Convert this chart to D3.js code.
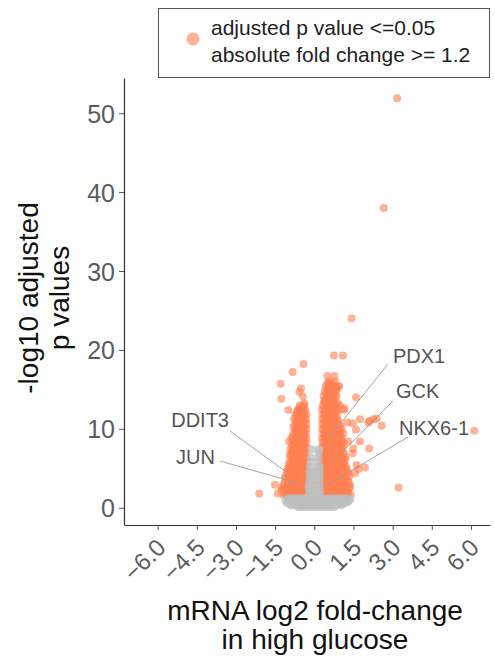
<!DOCTYPE html>
<html>
<head>
<meta charset="utf-8">
<script src="https://cdn.jsdelivr.net/npm/d3@7"></script>
<style>
  body { margin: 0; background: #fff; }
  svg { display: block; }
  text { font-family: "Liberation Sans", Arial, Helvetica, sans-serif; }
</style>
</head>
<body>
<svg id="chart" width="495" height="662"></svg>
<script>
// ---- data -------------------------------------------------------------
const xTicks = [-6.0, -4.5, -3.0, -1.5, 0.0, 1.5, 3.0, 4.5, 6.0];
const yTicks = [0, 10, 20, 30, 40, 50];

// significant genes: [log2 fold-change, -log10 adjusted p]
const sigPoints = [
  // down-regulated
  [-0.40,13.0],[-0.55,13.0],
  [-0.35,12.4],[-0.50,12.4],[-0.65,12.4],
  [-0.30,11.8],[-0.45,11.8],[-0.60,11.8],[-0.72,11.8],
  [-0.32,11.2],[-0.47,11.2],[-0.62,11.2],[-0.78,11.2],
  [-0.30,10.6],[-0.44,10.6],[-0.58,10.6],[-0.72,10.6],
  [-0.30,10.0],[-0.45,10.0],[-0.60,10.0],[-0.75,10.0],
  [-0.32,9.4],[-0.47,9.4],[-0.62,9.4],[-0.80,9.4],
  [-0.30,8.8],[-0.44,8.8],[-0.58,8.8],[-0.72,8.8],[-0.88,8.8],
  [-0.30,8.2],[-0.45,8.2],[-0.60,8.2],[-0.75,8.2],
  [-0.32,7.6],[-0.47,7.6],[-0.62,7.6],[-0.78,7.6],
  [-0.30,7.0],[-0.44,7.0],[-0.58,7.0],[-0.72,7.0],[-0.86,7.0],
  [-0.30,6.4],[-0.45,6.4],[-0.60,6.4],[-0.75,6.4],[-0.90,6.4],
  [-0.32,5.8],[-0.47,5.8],[-0.62,5.8],[-0.78,5.8],[-0.94,5.8],
  [-0.30,5.2],[-0.44,5.2],[-0.58,5.2],[-0.72,5.2],[-0.88,5.2],
  [-0.30,4.6],[-0.45,4.6],[-0.60,4.6],[-0.75,4.6],[-0.90,4.6],
  [-0.32,4.0],[-0.47,4.0],[-0.62,4.0],[-0.78,4.0],[-0.95,4.0],[-1.10,4.0],
  [-0.30,3.4],[-0.44,3.4],[-0.58,3.4],[-0.72,3.4],[-0.88,3.4],[-1.02,3.4],
  [-0.30,2.8],[-0.45,2.8],[-0.60,2.8],[-0.75,2.8],[-0.90,2.8],[-1.05,2.8],[-1.20,2.8],
  [-0.32,2.2],[-0.47,2.2],[-0.62,2.2],[-0.78,2.2],[-0.94,2.2],[-1.10,2.2],[-1.25,2.2],
  [-0.30,1.6],[-0.44,1.6],[-0.58,1.6],[-0.72,1.6],[-0.88,1.6],[-1.02,1.6],[-1.18,1.6],
  [-0.42,12.7],[-0.58,12.7],
  [-0.38,12.1],[-0.52,12.1],[-0.66,12.1],
  [-0.38,11.5],[-0.54,11.5],[-0.70,11.5],
  [-0.38,10.9],[-0.52,10.9],[-0.68,10.9],
  [-0.37,10.3],[-0.52,10.3],[-0.67,10.3],[-0.80,10.3],
  [-0.38,9.7],[-0.54,9.7],[-0.70,9.7],
  [-0.37,9.1],[-0.52,9.1],[-0.66,9.1],[-0.82,9.1],
  [-0.38,8.5],[-0.53,8.5],[-0.68,8.5],[-0.82,8.5],
  [-0.38,7.9],[-0.54,7.9],[-0.70,7.9],[-0.86,7.9],
  [-0.37,7.3],[-0.51,7.3],[-0.65,7.3],[-0.80,7.3],
  [-0.38,6.7],[-0.53,6.7],[-0.68,6.7],[-0.82,6.7],[-0.95,6.7],
  [-0.38,6.1],[-0.54,6.1],[-0.70,6.1],[-0.86,6.1],
  [-0.37,5.5],[-0.52,5.5],[-0.66,5.5],[-0.82,5.5],[-0.98,5.5],
  [-0.38,4.9],[-0.53,4.9],[-0.68,4.9],[-0.82,4.9],[-0.96,4.9],
  [-0.38,4.3],[-0.54,4.3],[-0.70,4.3],[-0.86,4.3],[-1.02,4.3],
  [-0.37,3.7],[-0.52,3.7],[-0.66,3.7],[-0.82,3.7],[-0.96,3.7],[-1.12,3.7],
  [-0.38,3.1],[-0.53,3.1],[-0.68,3.1],[-0.82,3.1],[-0.98,3.1],[-1.14,3.1],
  [-0.38,2.5],[-0.54,2.5],[-0.70,2.5],[-0.86,2.5],[-1.02,2.5],[-1.18,2.5],
  [-0.37,1.9],[-0.52,1.9],[-0.66,1.9],[-0.82,1.9],[-0.98,1.9],[-1.14,1.9],
  [-0.40,1.4],[-0.62,1.4],[-0.84,1.4],[-1.06,1.4],
  [-0.42,18.2],[-0.83,17.2],[-1.29,15.7],[-1.26,13.8],[-0.99,12.4],[-0.51,15.1],
  [-0.57,14.7],[-0.44,14.1],[-0.38,13.2],[-0.48,12.4],[-0.96,8.4],[-0.80,6.8],
  [-1.06,4.6],[-1.51,2.9],[-2.11,1.8],[-1.40,1.8],[-1.00,5.0],[-0.92,7.4],[-1.25,2.4],
  // up-regulated
  [0.55,16.0],[0.80,16.0],
  [0.45,15.4],[0.65,15.4],[0.90,15.4],
  [0.40,14.8],[0.58,14.8],[0.75,14.8],
  [0.35,14.2],[0.50,14.2],[0.68,14.2],[0.85,14.2],
  [0.38,13.6],[0.55,13.6],[0.72,13.6],
  [0.32,13.0],[0.48,13.0],[0.64,13.0],[0.80,13.0],[0.98,13.0],
  [0.30,12.4],[0.45,12.4],[0.60,12.4],[0.75,12.4],[0.92,12.4],
  [0.32,11.8],[0.48,11.8],[0.64,11.8],[0.80,11.8],
  [0.30,11.2],[0.45,11.2],[0.60,11.2],[0.75,11.2],[0.90,11.2],
  [0.32,10.6],[0.48,10.6],[0.64,10.6],[0.80,10.6],[0.96,10.6],
  [0.30,10.0],[0.45,10.0],[0.60,10.0],[0.75,10.0],[0.90,10.0],[1.05,10.0],
  [0.32,9.4],[0.48,9.4],[0.64,9.4],[0.80,9.4],[0.96,9.4],
  [0.30,8.8],[0.45,8.8],[0.60,8.8],[0.75,8.8],[0.90,8.8],[1.05,8.8],
  [0.32,8.2],[0.48,8.2],[0.64,8.2],[0.80,8.2],[0.96,8.2],[1.12,8.2],
  [0.30,7.6],[0.45,7.6],[0.60,7.6],[0.75,7.6],[0.90,7.6],[1.05,7.6],
  [0.32,7.0],[0.48,7.0],[0.64,7.0],[0.80,7.0],[0.96,7.0],[1.12,7.0],
  [0.30,6.4],[0.45,6.4],[0.60,6.4],[0.75,6.4],[0.90,6.4],[1.05,6.4],[1.20,6.4],
  [0.32,5.8],[0.48,5.8],[0.64,5.8],[0.80,5.8],[0.96,5.8],[1.12,5.8],
  [0.30,5.2],[0.45,5.2],[0.60,5.2],[0.75,5.2],[0.90,5.2],[1.05,5.2],[1.22,5.2],
  [0.32,4.6],[0.48,4.6],[0.64,4.6],[0.80,4.6],[0.96,4.6],[1.12,4.6],[1.28,4.6],
  [0.30,4.0],[0.45,4.0],[0.60,4.0],[0.75,4.0],[0.90,4.0],[1.05,4.0],[1.20,4.0],[1.35,4.0],
  [0.32,3.4],[0.48,3.4],[0.64,3.4],[0.80,3.4],[0.96,3.4],[1.12,3.4],[1.28,3.4],
  [0.30,2.8],[0.45,2.8],[0.60,2.8],[0.75,2.8],[0.90,2.8],[1.05,2.8],[1.20,2.8],[1.38,2.8],
  [0.32,2.2],[0.48,2.2],[0.64,2.2],[0.80,2.2],[0.96,2.2],[1.12,2.2],[1.28,2.2],
  [0.30,1.6],[0.45,1.6],[0.60,1.6],[0.75,1.6],[0.90,1.6],[1.05,1.6],[1.20,1.6],[1.40,1.6],
  [0.50,15.7],[0.70,15.7],
  [0.52,15.1],[0.70,15.1],[0.85,15.1],
  [0.45,14.5],[0.62,14.5],[0.80,14.5],
  [0.45,13.9],[0.62,13.9],[0.80,13.9],
  [0.40,13.3],[0.56,13.3],[0.72,13.3],[0.88,13.3],
  [0.38,12.7],[0.53,12.7],[0.68,12.7],[0.84,12.7],
  [0.38,12.1],[0.55,12.1],[0.72,12.1],[0.88,12.1],
  [0.38,11.5],[0.53,11.5],[0.68,11.5],[0.84,11.5],
  [0.38,10.9],[0.55,10.9],[0.72,10.9],[0.88,10.9],
  [0.38,10.3],[0.53,10.3],[0.68,10.3],[0.84,10.3],[0.98,10.3],
  [0.38,9.7],[0.55,9.7],[0.72,9.7],[0.88,9.7],[1.00,9.7],
  [0.38,9.1],[0.53,9.1],[0.68,9.1],[0.84,9.1],[0.98,9.1],
  [0.38,8.5],[0.55,8.5],[0.72,8.5],[0.88,8.5],[1.04,8.5],
  [0.38,7.9],[0.53,7.9],[0.68,7.9],[0.84,7.9],[0.98,7.9],[1.12,7.9],
  [0.38,7.3],[0.55,7.3],[0.72,7.3],[0.88,7.3],[1.04,7.3],
  [0.38,6.7],[0.53,6.7],[0.68,6.7],[0.84,6.7],[0.98,6.7],[1.12,6.7],
  [0.38,6.1],[0.55,6.1],[0.72,6.1],[0.88,6.1],[1.04,6.1],[1.18,6.1],
  [0.38,5.5],[0.53,5.5],[0.68,5.5],[0.84,5.5],[0.98,5.5],[1.14,5.5],
  [0.38,4.9],[0.55,4.9],[0.72,4.9],[0.88,4.9],[1.04,4.9],[1.20,4.9],
  [0.38,4.3],[0.53,4.3],[0.68,4.3],[0.84,4.3],[0.98,4.3],[1.14,4.3],[1.30,4.3],
  [0.38,3.7],[0.55,3.7],[0.72,3.7],[0.88,3.7],[1.04,3.7],[1.20,3.7],
  [0.38,3.1],[0.53,3.1],[0.68,3.1],[0.84,3.1],[0.98,3.1],[1.14,3.1],[1.32,3.1],
  [0.38,2.5],[0.55,2.5],[0.72,2.5],[0.88,2.5],[1.04,2.5],[1.20,2.5],[1.35,2.5],
  [0.38,1.9],[0.53,1.9],[0.68,1.9],[0.84,1.9],[0.98,1.9],[1.14,1.9],[1.30,1.9],
  [0.36,1.4],[0.58,1.4],[0.80,1.4],[1.02,1.4],[1.25,1.4],
  [3.17,51.9],[2.66,38.0],[1.43,24.0],[0.75,19.3],[1.10,19.3],[6.13,9.76],[3.23,2.56],
  [1.60,14.0],[1.75,11.2],[1.60,9.9],[2.07,10.8],[2.26,11.2],[2.58,10.4],[2.10,7.5],
  [1.75,8.4],[1.94,5.1],[1.69,4.9],[1.49,7.5],[1.14,12.6],[1.26,10.8],[1.47,6.9],
  [1.56,4.4],[1.30,8.4],[1.62,5.4],[1.11,9.4],[1.15,12.4],[0.86,15.0],[0.77,16.7],
  [0.50,16.7],[0.60,15.8],[0.96,15.4],[1.47,10.7],[2.11,11.0],[2.39,11.3]
];

// genes that fail either cut-off
const nsPoints = [
  [-1.00,1.2],[-0.85,1.2],[-0.70,1.2],[-0.55,1.2],[-0.40,1.2],[-0.25,1.2],[-0.10,1.2],[0.05,1.2],
  [0.20,1.2],[0.35,1.2],[0.50,1.2],[0.65,1.2],[0.80,1.2],[0.95,1.2],[1.10,1.2],[1.25,1.2],
  [-1.10,0.9],[-0.95,0.9],[-0.80,0.9],[-0.65,0.9],[-0.50,0.9],[-0.35,0.9],[-0.20,0.9],[-0.05,0.9],
  [0.10,0.9],[0.25,0.9],[0.40,0.9],[0.55,0.9],[0.70,0.9],[0.85,0.9],[1.00,0.9],[1.15,0.9],[1.30,0.9],
  [-1.05,0.6],[-0.90,0.6],[-0.75,0.6],[-0.60,0.6],[-0.45,0.6],[-0.30,0.6],[-0.15,0.6],[0.00,0.6],
  [0.15,0.6],[0.30,0.6],[0.45,0.6],[0.60,0.6],[0.75,0.6],[0.90,0.6],[1.05,0.6],[1.20,0.6],
  [-0.90,0.3],[-0.75,0.3],[-0.60,0.3],[-0.45,0.3],[-0.30,0.3],[-0.15,0.3],[0.00,0.3],
  [0.15,0.3],[0.30,0.3],[0.45,0.3],[0.60,0.3],[0.75,0.3],[0.90,0.3],[1.05,0.3],
  [-0.60,0.08],[-0.45,0.08],[-0.30,0.08],[-0.15,0.08],[0.00,0.08],[0.15,0.08],[0.30,0.08],
  [0.45,0.08],[0.60,0.08],[0.75,0.08],[1.30,0.76],[1.37,1.0],
  [-0.22,1.6],[-0.08,1.6],[0.06,1.6],[0.20,1.6],
  [-0.20,2.2],[-0.06,2.2],[0.08,2.2],[0.22,2.2],
  [-0.22,2.8],[-0.08,2.8],[0.06,2.8],[0.20,2.8],
  [-0.20,3.4],[-0.06,3.4],[0.08,3.4],[0.20,3.4],
  [-0.18,4.0],[-0.05,4.0],[0.08,4.0],[0.20,4.0],
  [-0.18,4.6],[-0.04,4.6],[0.10,4.6],[0.20,4.6],
  [-0.16,5.2],[0.12,5.2],[0.20,5.2],
  [-0.14,5.8],[0.14,5.8],
  [-0.12,6.4],[0.16,6.4],
  [0.16,7.0],[-0.10,7.4],[0.18,7.4]
];

// labelled genes
const geneNames = ["PDX1", "GCK", "NKX6-1", "DDIT3", "JUN"];
const geneFC    = [0.57, 0.60, 0.50, -1.06, -0.61];
const geneP     = [8.9, 5.5, 2.9, 4.5, 3.1];

const legendLines = ["adjusted p value <=0.05", "absolute fold change >= 1.2"];
const xTitle = ["mRNA log2 fold-change", "in high glucose"];
const yTitle = ["-log10 adjusted", "p values"];

// ---- layout -----------------------------------------------------------
const svg = d3.select("#chart");
const plot = { left: 124, right: 490, top: 78, bottom: 525 };
const sigColor = "#FF7F50";
const nsColor = "#BEBEBE";
const ptR = 4;

const x = d3.scaleLinear().domain([-7.29, 6.73]).range([plot.left, plot.right]);
const y = d3.scaleLinear().domain([-2.19, 54.46]).range([plot.bottom, plot.top]);

// points
svg.append("g").selectAll("circle").data(sigPoints).join("circle")
  .attr("cx", d => x(d[0])).attr("cy", d => y(d[1])).attr("r", ptR)
  .attr("fill", sigColor).attr("fill-opacity", 0.6);

svg.append("g").selectAll("circle").data(nsPoints).join("circle")
  .attr("cx", d => x(d[0])).attr("cy", d => y(d[1])).attr("r", ptR)
  .attr("fill", nsColor).attr("fill-opacity", 0.75);

// axes
const yAxis = svg.append("g").attr("transform", `translate(${plot.left},0)`)
  .call(d3.axisLeft(y).tickValues(yTicks).tickSize(5).tickSizeOuter(0).tickPadding(4)
    .tickFormat(d3.format("d")));
const xAxis = svg.append("g").attr("transform", `translate(0,${plot.bottom})`)
  .call(d3.axisBottom(x).tickValues(xTicks).tickSize(5).tickSizeOuter(0)
    .tickFormat(d3.format(".1f")));

[yAxis, xAxis].forEach(g => {
  g.select(".domain").attr("stroke", "#333").attr("stroke-width", 1.2);
  g.selectAll(".tick line").attr("stroke", "#555").attr("stroke-width", 1);
  g.selectAll(".tick text").attr("fill", "#5c5c5c").style("font-family", '"Liberation Sans", Arial, sans-serif');
});
yAxis.selectAll(".tick text").style("font-size", "25px").attr("dy", "0.36em");
xAxis.selectAll(".tick text")
  .style("font-size", "24px")
  .attr("text-anchor", "end")
  .attr("x", 0).attr("y", 0).attr("dy", 0)
  .attr("transform", "translate(9,24) rotate(-45)");

// axis titles
const xTitleCx = 315, yTitleCy = 298;
svg.append("text").attr("y", 620)
  .attr("text-anchor", "middle").attr("font-size", 28).attr("fill", "#111")
  .selectAll("tspan").data(xTitle).join("tspan")
  .attr("x", xTitleCx).attr("dy", (d, i) => i ? 29 : 0).text(d => d);

const yt = svg.append("text").attr("transform", `translate(0,${yTitleCy}) rotate(-90)`)
  .attr("text-anchor", "middle").attr("font-size", 28).attr("fill", "#111");
yt.selectAll("tspan").data(yTitle).join("tspan")
  .attr("x", 0).attr("y", (d, i) => i ? 69 : 38).text(d => d);

// gene labels with leader segments (text anchor and segment start in px)
const labelLayout = [
  { tx: 393, ty: 363, anchor: "start", sx: 388, sy: 364 },
  { tx: 396, ty: 398, anchor: "start", sx: 393, sy: 401 },
  { tx: 399, ty: 435, anchor: "start", sx: 408, sy: 437 },
  { tx: 229, ty: 427, anchor: "end",   sx: 230, sy: 431 },
  { tx: 215, ty: 464, anchor: "end",   sx: 220, sy: 461 }
];
const genes = geneNames.map((n, i) => ({ name: n, fc: geneFC[i], p: geneP[i], ...labelLayout[i] }));
const lg = svg.append("g");
lg.selectAll("line").data(genes).join("line")
  .attr("x1", d => d.sx).attr("y1", d => d.sy)
  .attr("x2", d => x(d.fc)).attr("y2", d => y(d.p))
  .attr("stroke", "#9a9a9a").attr("stroke-width", 0.9);
lg.selectAll("text").data(genes).join("text")
  .attr("x", d => d.tx).attr("y", d => d.ty).attr("text-anchor", d => d.anchor)
  .attr("font-size", 20).attr("fill", "#555").text(d => d.name);

// legend
const leg = svg.append("g");
leg.append("rect").attr("x", 158.5).attr("y", 8.5).attr("width", 331).attr("height", 69)
  .attr("fill", "#fff").attr("stroke", "#555").attr("stroke-width", 1);
leg.append("circle").attr("cx", 193).attr("cy", 39).attr("r", 6.5)
  .attr("fill", sigColor).attr("fill-opacity", 0.6);
leg.selectAll("text.l").data(legendLines).join("text").attr("class", "l")
  .attr("x", 211).attr("y", (d, i) => 34.5 + i * 27)
  .attr("font-size", 21).attr("fill", "#222").text(d => d);
</script>
</body>
</html>
